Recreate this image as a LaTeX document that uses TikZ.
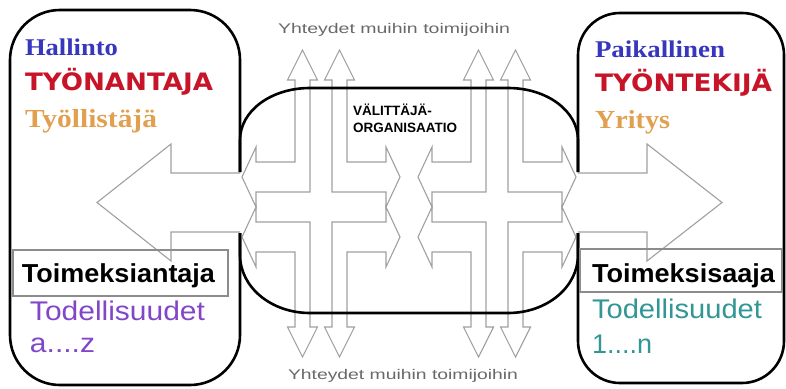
\documentclass[tikz,border=0pt]{standalone}
\usepackage{fontspec}
\setmainfont{Liberation Serif}
\setsansfont{Liberation Sans}
\newfontfamily\versal{DejaVu Sans}

\definecolor{arrowgray}{RGB}{160,160,160}
\definecolor{boxgray}{RGB}{140,140,140}
\definecolor{linkgray}{RGB}{105,105,105}
\definecolor{titleblue}{RGB}{55,55,190}
\definecolor{rolered}{RGB}{200,20,40}
\definecolor{tanorange}{RGB}{225,160,80}
\definecolor{factpurple}{RGB}{130,70,200}
\definecolor{factteal}{RGB}{50,150,150}

% stretch a text horizontally to a given width, keeping its height
\newcommand{\fitto}[2]{\resizebox{#1}{\height}{#2}}
\newcommand{\fsz}[1]{\fontsize{#1}{#1}\selectfont}

% one bent double-headed arrow (vertical arm up, horizontal arm left),
% #1 = distance to the vertical head base, #2 = distance to its tip
\newcommand{\bentarrow}[2]{%
  \filldraw[arrowshape] (-11,-15) -- (-11,-#1) -- (-3.5,-#1) -- (-18.5,-#2)
    -- (-33.5,-#1) -- (-26,-#1) -- (-26,-45) -- (-65,-45) -- (-65,-60)
    -- (-79,-30) -- (-65,0) -- (-65,-15) -- cycle;}

% four bent arrows around a common centre
\newcommand{\crossat}[2]{%
  \begin{scope}[shift={(#1,#2)}]\bentarrow{127}{157}\end{scope}
  \begin{scope}[shift={(#1,#2)},xscale=-1]\bentarrow{127}{157}\end{scope}
  \begin{scope}[shift={(#1,#2)},yscale=-1]\bentarrow{120}{150}\end{scope}
  \begin{scope}[shift={(#1,#2)},xscale=-1,yscale=-1]\bentarrow{120}{150}\end{scope}}

\tikzset{
  frame/.style={draw=black, line width=2.6pt, line join=round},
  arrowshape/.style={fill=white, draw=arrowgray, line width=1.1pt, line join=miter},
  tagbox/.style={draw=boxgray, line width=1.2pt},
  lbl/.style={anchor=base west, inner sep=0pt, outer sep=0pt},
}

\begin{document}
\begin{tikzpicture}[x=1pt, y=-1pt]
  % canvas
  \fill[white] (0,0) rectangle (786,388);
  \useasboundingbox (0,0) rectangle (786,388);

  % outer boxes, open where the big arrows pass
  \draw[frame, rounded corners=50pt]
    (240,172) -- (240,10) -- (10,10) -- (10,385) -- (240,385) -- (240,233);
  \draw[frame, rounded corners=42pt]
    (578,172) -- (578,13) -- (784,13) -- (784,383) -- (578,383) -- (578,233);

  % big arrows leaving the middle
  \filldraw[arrowshape] (240,173) -- (171,173) -- (171,144) -- (97,202.5)
    -- (171,261) -- (171,232) -- (240,232);
  \filldraw[arrowshape] (578,173) -- (647,173) -- (647,144) -- (722,202.5)
    -- (647,261) -- (647,232) -- (578,232);

  % the two arrow crosses
  \crossat{321}{207}
  \crossat{497}{207}

  % middle organisation outline
  \draw[frame] (240,172) -- (240,140) .. controls (240,111) and (271,88) .. (310,88)
    -- (508,88) .. controls (547,88) and (578,111) .. (578,140) -- (578,172);
  \draw[frame] (240,233) -- (240,255) .. controls (240,287) and (271,313) .. (310,313)
    -- (508,313) .. controls (547,313) and (578,287) .. (578,255) -- (578,233);

  % role tags
  \draw[tagbox] (13,250) rectangle (228,296);
  \draw[tagbox] (580,249) rectangle (782,292);

  % left side texts
  \node[lbl, text=titleblue] (hallinto) at (25,55)
    {\fsz{24}\bfseries\fitto{93pt}{Hallinto}};
  \node[lbl, text=rolered] (tyonantaja) at (25,90)
    {\versal\fsz{24}\bfseries\fitto{188pt}{TYÖNANTAJA}};
  \node[lbl, text=tanorange] (tyollistaja) at (25,127)
    {\fsz{26}\bfseries\fitto{132pt}{Työllistäjä}};
  \node[lbl] (antaja) at (22,282)
    {\sffamily\fsz{26}\bfseries\fitto{193pt}{Toimeksiantaja}};
  \node[lbl, text=factpurple] (todl) at (30,320)
    {\sffamily\fsz{27}\fitto{175pt}{Todellisuudet}};
  \node[lbl, text=factpurple] (az) at (30,352)
    {\sffamily\fsz{27}\fitto{65pt}{a....z}};

  % right side texts
  \node[lbl, text=titleblue] (paikallinen) at (595,57)
    {\fsz{24}\bfseries\fitto{130pt}{Paikallinen}};
  \node[lbl, text=rolered] (tyontekija) at (595,91)
    {\versal\fsz{24}\bfseries\fitto{177pt}{TYÖNTEKIJÄ}};
  \node[lbl, text=tanorange] (yritys) at (595,128)
    {\fsz{26}\bfseries\fitto{75pt}{Yritys}};
  \node[lbl] (saaja) at (592,282)
    {\sffamily\fsz{26}\bfseries\fitto{183pt}{Toimeksisaaja}};
  \node[lbl, text=factteal] (todr) at (592,318)
    {\sffamily\fsz{27}\fitto{170pt}{Todellisuudet}};
  \node[lbl, text=factteal] (on) at (592,353)
    {\sffamily\fsz{27}\fitto{60pt}{1....n}};

  % middle texts
  \node[lbl] (valittaja) at (353,115)
    {\sffamily\fsz{13.5}\bfseries VÄLITTÄJÄ-};
  \node[lbl] (organisaatio) at (353,132)
    {\sffamily\fsz{13.5}\bfseries ORGANISAATIO};
  \node[lbl, text=linkgray] (linkstop) at (278,33)
    {\sffamily\fsz{14}\fitto{232pt}{Yhteydet muihin toimijoihin}};
  \node[lbl, text=linkgray] (linksbottom) at (288,379)
    {\sffamily\fsz{14}\fitto{230pt}{Yhteydet muihin toimijoihin}};
\end{tikzpicture}
\end{document}
